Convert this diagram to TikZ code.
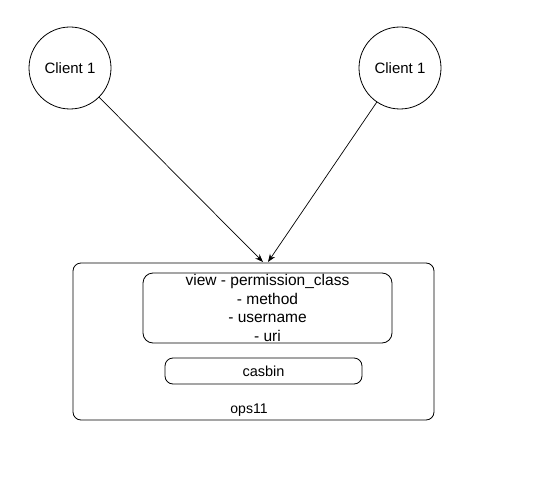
\documentclass[tikz,border=0pt]{standalone}
\usepackage{fontspec}
\setmainfont{Liberation Sans}
\usetikzlibrary{arrows.meta}

\tikzset{
	client/.style={draw, circle, minimum size=82pt, inner sep=0pt, line width=0.8pt, font=\fontsize{15}{18}\selectfont},
	rbox/.style={draw, rounded corners=8pt, inner sep=0pt, line width=0.8pt},
	link/.style={line width=0.7pt, -{Stealth[length=8pt, width=6pt]}}
}

\begin{document}
\begin{tikzpicture}[x=1pt, y=-1pt]
		\useasboundingbox (0,0) rectangle (535,484);
		\node [client] (cl1) at (70,68) {Client 1};
		\node [client] (cl2) at (400,68) {Client 1};
		% server box
		\node [rbox, minimum width=361pt, minimum height=157pt] (ops) at (253.5,341.5) {};
		\node [rbox, rounded corners=10pt, minimum width=249pt, minimum height=70pt] (view) at (267.5,308) {};
		\node [align=center, inner sep=0pt, font=\fontsize{15.5}{18.7}\selectfont] (viewtxt) at (view.center) {view - permission\_class\\- method\\- username\\- uri};
		\node [rbox, minimum width=197pt, minimum height=26pt, font=\fontsize{14.5}{17}\selectfont] (casbin) at (263.5,371) {casbin};
		\node [font=\fontsize{14}{17}\selectfont] (opslbl) at (249,410) {ops11};
		\coordinate (inL) at (263,262);
		\coordinate (inR) at (268,262);
		\draw [link] (cl1) -- (inL);
		\draw [link] (cl2) -- (inR);
	\end{tikzpicture}
\end{document}
